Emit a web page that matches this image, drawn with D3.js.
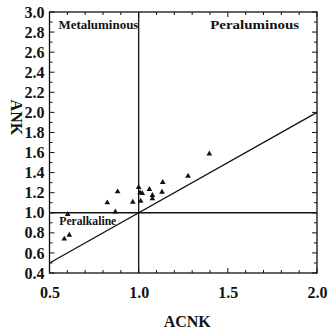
<!DOCTYPE html>
<html>
<head>
<meta charset="utf-8">
<script src="https://cdn.jsdelivr.net/npm/d3@7"></script>
<style>
  body { margin: 0; background: #fff; }
  svg { display: block; }
  text { font-family: "Liberation Serif", "DejaVu Serif", serif; font-weight: bold; fill: #111; }
</style>
</head>
<body>
<div id="chart"></div>
<script>
// ACNK vs ANK samples
const acnk = [0.583, 0.611, 0.602, 0.824, 0.882, 0.869, 0.967, 1.0, 1.008, 1.02, 1.011, 1.06, 1.077, 1.077, 1.135, 1.131, 1.277, 1.396];
const ank  = [0.739, 0.778, 0.985, 1.10, 1.21, 1.01, 1.107, 1.254, 1.20, 1.194, 1.117, 1.234, 1.174, 1.14, 1.303, 1.207, 1.366, 1.588];

const xTickLabels = [0.5, 1.0, 1.5, 2.0];
const yTickLabels = [0.4, 0.6, 0.8, 1.0, 1.2, 1.4, 1.6, 1.8, 2.0, 2.2, 2.4, 2.6, 2.8, 3.0];
const regions = [
    { name: 'Metaluminous', x: 0.55, y: 2.83, len: 80 },
    { name: 'Peraluminous', x: 1.9, y: 2.83, len: 89, anchor: 'end' },
    { name: 'Peralkaline', x: 0.555, y: 0.875, len: 57 }
];

const width = 328, height = 331;
const margin = { top: 12, right: 11, bottom: 58, left: 49.5 };

const svg = d3.select('#chart')
    .append('svg')
    .attr('width', width)
    .attr('height', height);

const x = d3.scaleLinear()
    .domain([0.5, 2.0])
    .range([margin.left, width - margin.right]);

const y = d3.scaleLinear()
    .domain([0.4, 3.0])
    .range([height - margin.bottom, margin.top]);

const minorX = d3.range(5, 21).map(d => d / 10);
const minorY = d3.range(4, 31).map(d => d / 10);
const isMajor = (v, list) => list.some(t => Math.abs(t - v) < 1e-6);

// frame ticks, all pointing inward
const tickLen = (v, list) => isMajor(v, list) ? 5 : 3;

svg.append('g')
    .attr('transform', `translate(0,${y(0.4)})`)
    .call(d3.axisBottom(x).tickValues(xTickLabels).tickFormat(d3.format('.1f')).tickSize(0).tickPadding(14))
    .call(g => g.select('.domain').remove())
    .call(g => g.selectAll('text').attr('font-size', 16).attr('font-family', null).attr('fill', '#111'));

svg.append('g')
    .attr('transform', `translate(${x(0.5)},0)`)
    .call(d3.axisLeft(y).tickValues(yTickLabels).tickFormat(d3.format('.1f')).tickSize(0).tickPadding(5))
    .call(g => g.select('.domain').remove())
    .call(g => g.selectAll('text').attr('font-size', 16).attr('font-family', null).attr('fill', '#111'));

const ticks = svg.append('g').attr('stroke', '#111').attr('stroke-width', 1);
minorX.forEach(v => {
    const l = tickLen(v, xTickLabels);
    ticks.append('line').attr('x1', x(v)).attr('x2', x(v)).attr('y1', y(0.4)).attr('y2', y(0.4) - l);
    ticks.append('line').attr('x1', x(v)).attr('x2', x(v)).attr('y1', y(3.0)).attr('y2', y(3.0) + l);
});
minorY.forEach(v => {
    const l = tickLen(v, yTickLabels);
    ticks.append('line').attr('y1', y(v)).attr('y2', y(v)).attr('x1', x(0.5)).attr('x2', x(0.5) + l);
    ticks.append('line').attr('y1', y(v)).attr('y2', y(v)).attr('x1', x(2.0)).attr('x2', x(2.0) - l);
});

// frame
svg.append('rect')
    .attr('x', x(0.5)).attr('y', y(3.0))
    .attr('width', x(2.0) - x(0.5)).attr('height', y(0.4) - y(3.0))
    .attr('fill', 'none').attr('stroke', '#111').attr('stroke-width', 1.3);

// dividing lines
const lines = svg.append('g').attr('stroke', '#111').attr('stroke-width', 1.3);
lines.append('line').attr('x1', x(1.0)).attr('x2', x(1.0)).attr('y1', y(0.4)).attr('y2', y(3.0));
lines.append('line').attr('x1', x(0.5)).attr('x2', x(2.0)).attr('y1', y(1.0)).attr('y2', y(1.0));
lines.append('line').attr('x1', x(0.5)).attr('x2', x(2.0)).attr('y1', y(0.5)).attr('y2', y(2.0));

// samples
const tri = d3.symbol().type(d3.symbolTriangle).size(14);
svg.append('g')
    .selectAll('path')
    .data(acnk.map((v, i) => ({ a: v, n: ank[i] })))
    .join('path')
    .attr('d', tri)
    .attr('transform', d => `translate(${x(d.a)},${y(d.n)})`)
    .attr('fill', '#111');

// region labels
svg.append('g')
    .selectAll('text')
    .data(regions)
    .join('text')
    .attr('x', d => x(d.x))
    .attr('y', d => y(d.y))
    .attr('text-anchor', d => d.anchor || 'start')
    .attr('font-size', 13)
    .attr('textLength', d => d.len)
    .attr('lengthAdjust', 'spacingAndGlyphs')
    .text(d => d.name);

// axis titles
svg.append('text')
    .attr('x', x(1.25) + 4)
    .attr('y', 327)
    .attr('text-anchor', 'middle')
    .attr('font-size', 16)
    .text('ACNK');

svg.append('text')
    .attr('transform', `translate(16,${y(1.95)}) rotate(90)`)
    .attr('text-anchor', 'middle')
    .attr('dominant-baseline', 'central')
    .attr('font-size', 16)
    .text('ANK');
</script>
</body>
</html>
